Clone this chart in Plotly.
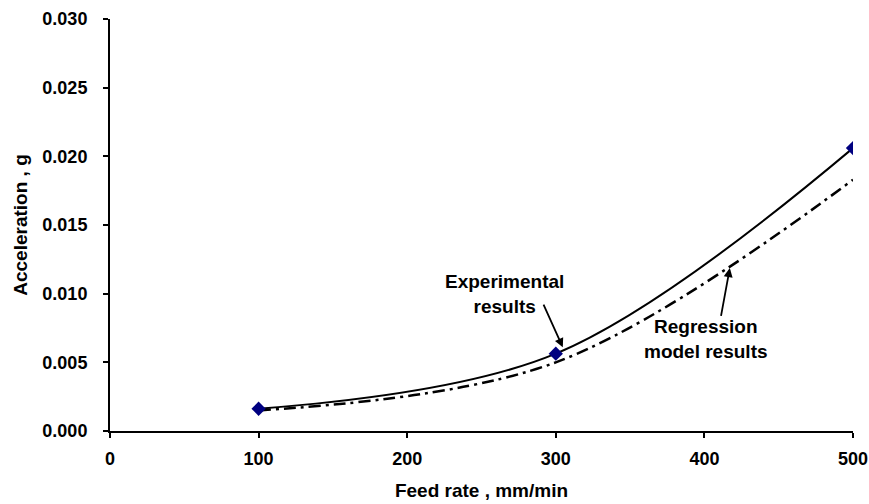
import plotly.graph_objects as go

feed_rate = [100, 300, 500]
experimental = [0.00162, 0.00563, 0.0206]
regression = [0.0015, 0.0050, 0.0183]

FONT = "Liberation Sans, Arial, sans-serif"

fig = go.Figure()
fig.add_trace(go.Scatter(
    x=feed_rate, y=regression, mode="lines", line_shape="spline",
    line=dict(color="black", width=2.5, dash="12px,5px,3px,5px"),
    showlegend=False, hoverinfo="skip"))
fig.add_trace(go.Scatter(
    x=feed_rate, y=experimental, mode="lines+markers", line_shape="spline",
    line=dict(color="black", width=2),
    marker=dict(symbol="diamond", size=11, color="#000080",
                line=dict(color="#000080", width=0)),
    showlegend=False))

# text labels
fig.add_annotation(x=265.7, y=0.0100, xref="x", yref="y",
                   text="<b>Experimental<br>results</b>", showarrow=False,
                   font=dict(family=FONT, size=19, color="black"), align="center")
fig.add_annotation(x=400.9, y=0.00672, xref="x", yref="y",
                   text="<b>Regression<br>model results</b>", showarrow=False,
                   font=dict(family=FONT, size=19, color="black"), align="center")
# arrows
fig.add_annotation(x=304.7, y=0.00609, ax=291.3, ay=0.00931,
                   xref="x", yref="y", axref="x", ayref="y", text="",
                   showarrow=True, arrowhead=2, arrowsize=1.0, arrowwidth=1.8,
                   arrowcolor="black")
fig.add_annotation(x=417.1, y=0.01186, ax=411.0, ay=0.00828,
                   xref="x", yref="y", axref="x", ayref="y", text="",
                   showarrow=True, arrowhead=2, arrowsize=1.0, arrowwidth=1.8,
                   arrowcolor="black")

fig.update_layout(
    width=869, height=504,
    margin=dict(l=110, r=16, t=19, b=73),
    paper_bgcolor="white", plot_bgcolor="white",
    font=dict(family=FONT, color="black"),
    xaxis=dict(range=[0, 500], dtick=100, tick0=0, showgrid=False, zeroline=False,
               automargin=False,
               showline=True, linecolor="black", linewidth=2,
               ticks="outside", ticklen=5, tickwidth=2, tickcolor="black",
               ticklabelstandoff=5,
               tickfont=dict(family=FONT, size=18, color="black"),
               title=dict(text="<b>Feed rate , mm/min</b>", standoff=16,
                          font=dict(family=FONT, size=19, color="black"))),
    yaxis=dict(range=[0, 0.030], dtick=0.005, tick0=0, tickformat=".3f",
               showgrid=False, zeroline=False, automargin=False,
               showline=True, linecolor="black", linewidth=2,
               ticks="outside", ticklen=5, tickwidth=2, tickcolor="black",
               ticklabelstandoff=12,
               tickfont=dict(family=FONT, size=18, color="black"),
               title=dict(text="<b>Acceleration , g</b>", standoff=10,
                          font=dict(family=FONT, size=19, color="black"))),
)
fig.update_xaxes(tickprefix="<b>", ticksuffix="</b>")
fig.update_yaxes(tickprefix="<b>", ticksuffix="</b>")

fig.write_html("out.html")
